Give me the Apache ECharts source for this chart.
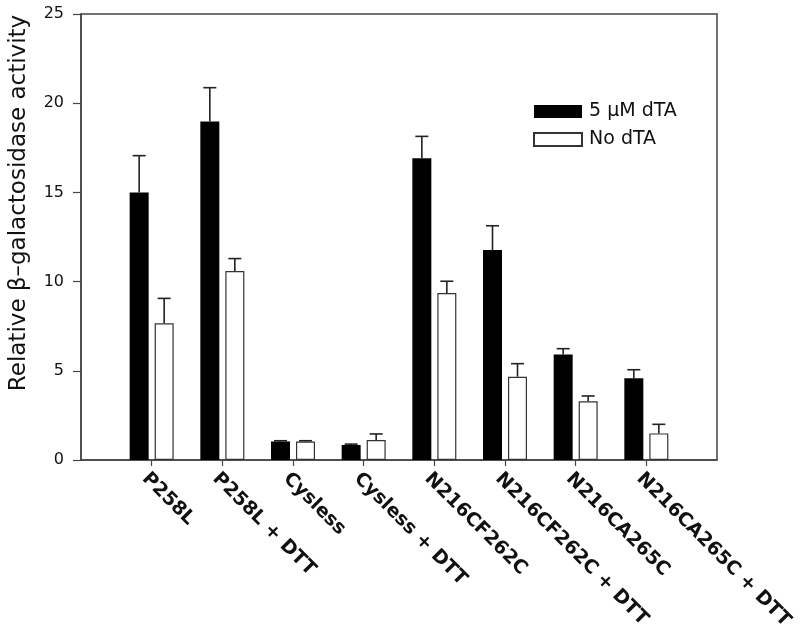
<!DOCTYPE html>
<html>
<head>
<meta charset="utf-8">
<script src="https://cdn.jsdelivr.net/npm/echarts@6/dist/echarts.min.js"></script>
<style>html,body{margin:0;padding:0;background:#fff;}#c{width:800px;height:634px;}</style>
</head>
<body>
<div id="c"></div>
<script>
var categories = ['', 'P258L', 'P258L + DTT', 'Cysless', 'Cysless + DTT', 'N216CF262C', 'N216CF262C + DTT', 'N216CA265C', 'N216CA265C + DTT', ''];
var dtaValues = [null, 15.0, 18.98, 1.04, 0.84, 16.91, 11.77, 5.92, 4.58, null];
var dtaErrors = [null, 2.06, 1.89, 0.04, 0.05, 1.23, 1.36, 0.32, 0.48, null];
var noDtaValues = [null, 7.66, 10.59, 1.03, 1.12, 9.36, 4.67, 3.29, 1.49, null];
var noDtaErrors = [null, 1.4, 0.7, 0.05, 0.34, 0.66, 0.73, 0.3, 0.51, null];
var yTicks = [0, 5, 10, 15, 20, 25];
var seriesNames = ['5 \u03bcM dTA', 'No dTA'];
var yTitle = 'Relative \u03b2\u2013galactosidase activity';

var FONT = 'DejaVu Sans';
var BAR_W = 19, OFFSET = 12.5, CAP = 13;

function errData(vals, errs) {
  var out = [];
  for (var i = 0; i < vals.length; i++) {
    if (vals[i] != null) out.push([i, vals[i], errs[i]]);
  }
  return out;
}
function errRenderer(dx) {
  return function (params, api) {
    var i = api.value(0), v = api.value(1), e = api.value(2);
    var p0 = api.coord([i, v]);
    var p1 = api.coord([i, v + e]);
    var x = p0[0] + dx;
    var st = { stroke: '#222', lineWidth: 1.6 };
    return {
      type: 'group',
      children: [
        { type: 'line', shape: { x1: x, y1: p0[1], x2: x, y2: p1[1] }, style: st },
        { type: 'line', shape: { x1: x - CAP / 2, y1: p1[1], x2: x + CAP / 2, y2: p1[1] }, style: st }
      ]
    };
  };
}

var chart = echarts.init(document.getElementById('c'), null, { renderer: 'canvas' });
chart.setOption({
  animation: false,
  backgroundColor: '#fff',
  textStyle: { fontFamily: FONT },
  grid: { left: 81, right: 83, top: 14, bottom: 174, show: true, borderColor: '#444', borderWidth: 1.5, backgroundColor: 'transparent' },
  legend: {
    orient: 'vertical', left: 528, top: 97, itemWidth: 48, itemHeight: 13, itemGap: 9, icon: 'rect',
    textStyle: { fontFamily: FONT, fontSize: 19, color: '#111', padding: [0, 0, 0, 2] },
    data: seriesNames
  },
  xAxis: {
    type: 'category', data: categories, boundaryGap: false,
    axisLine: { lineStyle: { color: '#444', width: 1.5 } },
    axisTick: { show: true, length: 6, lineStyle: { color: '#444', width: 1.2 }, interval: function (i) { return i > 0 && i < 9; } },
    axisLabel: { interval: 0, rotate: -45, margin: 9, align: 'left', verticalAlign: 'top', fontFamily: FONT, fontWeight: 'bold', fontSize: 19, color: '#111' },
    splitLine: { show: false }
  },
  yAxis: {
    type: 'value', min: 0, max: 25, interval: 5,
    name: yTitle, nameLocation: 'middle', nameRotate: 90, nameGap: 50,
    nameTextStyle: { fontFamily: FONT, fontSize: 23, color: '#111', padding: [0, 0, 0, 68] },
    axisLine: { show: true, lineStyle: { color: '#444', width: 1.5 } },
    axisTick: { show: true, length: 8, lineStyle: { color: '#444', width: 1.2 } },
    axisLabel: { margin: 17, fontFamily: FONT, fontSize: 16, color: '#111', formatter: function (v) { return yTicks.indexOf(v) >= 0 ? String(v) : ''; } },
    splitLine: { show: false }
  },
  series: [
    { name: seriesNames[0], type: 'bar', data: dtaValues, barWidth: BAR_W, barGap: (6 / BAR_W * 100) + '%', itemStyle: { color: '#000', borderColor: '#000', borderWidth: 0 } },
    { name: seriesNames[1], type: 'bar', data: noDtaValues, barWidth: BAR_W, itemStyle: { color: '#fff', borderColor: '#333', borderWidth: 1.2 } },
    { type: 'custom', data: errData(dtaValues, dtaErrors), renderItem: errRenderer(-OFFSET), z: 5, silent: true },
    { type: 'custom', data: errData(noDtaValues, noDtaErrors), renderItem: errRenderer(OFFSET), z: 5, silent: true }
  ]
});
</script>
</body>
</html>
